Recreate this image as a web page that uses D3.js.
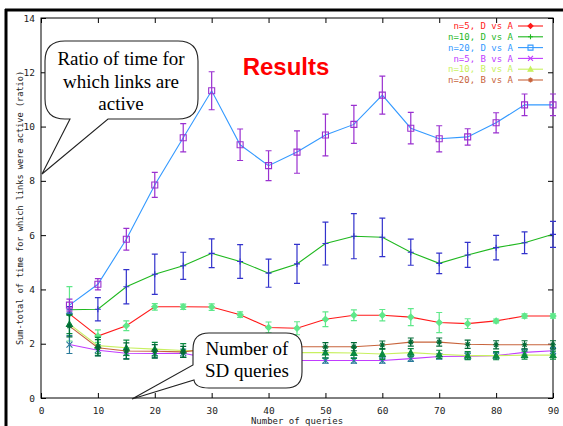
<!DOCTYPE html>
<html>
<head>
<meta charset="utf-8">
<script src="https://cdn.jsdelivr.net/npm/d3@7"></script>
<style>
    body { margin: 0; background: #fff; }
</style>
</head>
<body>
<div id="chart"></div>
<script>

// number of queries (x axis)
var queries = [5, 10, 15, 20, 25, 30, 35, 40, 45, 50, 55, 60, 65, 70, 75, 80, 85, 90];

// series values (ratio) and half-width of the error bars
var n5DvsA     = [3.10, 2.28, 2.66, 3.36, 3.36, 3.35, 3.07, 2.60, 2.57, 2.90, 3.05, 3.05, 2.98, 2.78, 2.74, 2.84, 3.02, 3.02];
var n5DvsAErr  = [1.00, 0.23, 0.18, 0.12, 0.10, 0.12, 0.10, 0.20, 0.24, 0.27, 0.20, 0.21, 0.31, 0.37, 0.18, 0.07, 0.08, 0.08];
var n10DvsA    = [3.25, 3.27, 4.10, 4.56, 4.87, 5.33, 5.03, 4.60, 4.94, 5.69, 5.96, 5.92, 5.37, 4.96, 5.27, 5.54, 5.72, 6.03];
var n10DvsAErr = [0.12, 0.43, 0.63, 0.74, 0.50, 0.53, 0.62, 0.52, 0.72, 0.79, 0.83, 0.71, 0.48, 0.38, 0.46, 0.45, 0.40, 0.48];
var n20DvsA    = [3.42, 4.19, 5.85, 7.85, 9.59, 11.32, 9.33, 8.56, 9.06, 9.69, 10.08, 11.16, 9.94, 9.55, 9.62, 10.14, 10.80, 10.80];
var n20DvsAErr = [0.22, 0.21, 0.40, 0.46, 0.52, 0.70, 0.58, 0.55, 0.78, 0.77, 0.70, 0.70, 0.58, 0.48, 0.30, 0.37, 0.40, 0.40];
var n5BvsA     = [1.97, 1.76, 1.65, 1.64, 1.65, 1.45, 1.40, 1.38, 1.38, 1.38, 1.38, 1.38, 1.45, 1.53, 1.54, 1.56, 1.68, 1.74];
var n5BvsAErr  = [0.33, 0.20, 0.20, 0.15, 0.15, 0.10, 0.10, 0.10, 0.10, 0.10, 0.10, 0.10, 0.10, 0.10, 0.12, 0.12, 0.12, 0.12];
var n10BvsA    = [2.72, 1.93, 1.85, 1.80, 1.75, 1.72, 1.70, 1.68, 1.67, 1.67, 1.66, 1.62, 1.67, 1.61, 1.56, 1.56, 1.58, 1.58];
var n10BvsAErr = [0.35, 0.30, 0.28, 0.25, 0.25, 0.20, 0.20, 0.20, 0.20, 0.20, 0.20, 0.20, 0.15, 0.15, 0.15, 0.15, 0.15, 0.15];
var n20BvsA    = [2.65, 1.85, 1.73, 1.72, 1.70, 1.82, 1.87, 1.89, 1.89, 1.89, 1.89, 1.95, 2.06, 2.06, 1.98, 1.96, 1.96, 1.96];
var n20BvsAErr = [0.40, 0.30, 0.30, 0.25, 0.20, 0.15, 0.15, 0.15, 0.15, 0.15, 0.15, 0.15, 0.15, 0.15, 0.15, 0.15, 0.15, 0.15];

var seriesNames = ["n=5, D vs A", "n=10, D vs A", "n=20, D vs A", "n=5, B vs A", "n=10, B vs A", "n=20, B vs A"];

// tick labels
var xTicks = [0, 10, 20, 30, 40, 50, 60, 70, 80, 90];
var yTicks = [0, 2, 4, 6, 8, 10, 12, 14];

var chartTitle = "Results";
var xTitle = "Number of queries";
var yTitle = "Sum-total of time for which links were active (ratio)";
var callout1 = ["Ratio of time for", "which links are", "active"];
var callout2 = ["Number of", "SD queries"];


ResultsChart = function(_parentElement){
    this.parentElement = _parentElement;
    this.initVis();
}

ResultsChart.prototype.initVis = function(){
    var vis = this;

    vis.width = 563;
    vis.height = 426;
    vis.margin = { top: 18, right: 10, bottom: 28, left: 41 };

    vis.svg = d3.select("#" + vis.parentElement).append("svg")
        .attr("width", vis.width)
        .attr("height", vis.height)
        .style("display", "block");

    vis.x = d3.scaleLinear()
        .domain([0, 90])
        .range([vis.margin.left, vis.width - vis.margin.right]);

    vis.y = d3.scaleLinear()
        .domain([0, 14])
        .range([vis.height - vis.margin.bottom, vis.margin.top]);

    // line colour, error bar colour, marker kind
    var styles = [
        { color: "#ff1a1a", bar: "#5fe88a", marker: "diamond" },
        { color: "#1fb81f", bar: "#3333cc", marker: "plus" },
        { color: "#3399ff", bar: "#9a30d0", marker: "square" },
        { color: "#c03cff", bar: "#2a7a9a", marker: "cross" },
        { color: "#c8f060", bar: "#0a8a40", marker: "triangle" },
        { color: "#c8643c", bar: "#006a35", marker: "star" }
    ];
    var values = [n5DvsA, n10DvsA, n20DvsA, n5BvsA, n10BvsA, n20BvsA];
    var errors = [n5DvsAErr, n10DvsAErr, n20DvsAErr, n5BvsAErr, n10BvsAErr, n20BvsAErr];

    vis.series = seriesNames.map(function(name, i){
        return {
            name: name,
            color: styles[i].color,
            bar: styles[i].bar,
            marker: styles[i].marker,
            points: queries.map(function(q, j){ return { x: q, v: values[i][j], e: errors[i][j] }; })
        };
    });

    vis.updateVis();
};

ResultsChart.prototype.markerPath = function(kind, s){
    if (kind == "diamond") return "M0," + (-s) + "L" + s + ",0L0," + s + "L" + (-s) + ",0Z";
    if (kind == "plus") return "M" + (-s) + ",0H" + s + "M0," + (-s) + "V" + s;
    if (kind == "square") return "M" + (-s) + "," + (-s) + "H" + s + "V" + s + "H" + (-s) + "Z";
    if (kind == "cross") return "M" + (-s) + "," + (-s) + "L" + s + "," + s + "M" + (-s) + "," + s + "L" + s + "," + (-s);
    if (kind == "triangle") return "M0," + (-s) + "L" + s + "," + (s * 0.8) + "L" + (-s) + "," + (s * 0.8) + "Z";
    // star
    return "M" + (-s) + ",0H" + s + "M0," + (-s) + "V" + s +
        "M" + (-s * 0.7) + "," + (-s * 0.7) + "L" + (s * 0.7) + "," + (s * 0.7) +
        "M" + (-s * 0.7) + "," + (s * 0.7) + "L" + (s * 0.7) + "," + (-s * 0.7);
};

ResultsChart.prototype.updateVis = function(){
    var vis = this;
    var x = vis.x, y = vis.y;
    var left = x(0), right = x(90), top = y(14), bottom = y(0);
    var mono = "'DejaVu Sans Mono', 'Liberation Mono', monospace";

    // slide border (left and top)
    vis.svg.append("line")
        .attr("x1", 6).attr("y1", 9).attr("x2", 6).attr("y2", vis.height)
        .attr("stroke", "#000").attr("stroke-width", 3);
    vis.svg.append("line")
        .attr("x1", 5).attr("y1", 10).attr("x2", vis.width).attr("y2", 10)
        .attr("stroke", "#000").attr("stroke-width", 3);

    // axes with inward ticks on all four sides
    var axisFont = function(g){
        g.select(".domain").remove();
        g.selectAll(".tick line").attr("stroke", "#000");
        g.selectAll("text")
            .attr("fill", "#222")
            .style("font-family", mono)
            .style("font-size", "9.5px");
    };

    vis.svg.append("g")
        .attr("transform", "translate(0," + bottom + ")")
        .call(d3.axisBottom(x).tickValues(xTicks).tickSize(-5).tickPadding(9))
        .call(axisFont);
    vis.svg.append("g")
        .attr("transform", "translate(" + left + ",0)")
        .call(d3.axisLeft(y).tickValues(yTicks).tickSize(-5).tickPadding(6))
        .call(axisFont);
    vis.svg.append("g")
        .attr("transform", "translate(0," + top + ")")
        .call(d3.axisTop(x).tickValues(xTicks).tickSize(-5).tickFormat(""))
        .call(axisFont);
    vis.svg.append("g")
        .attr("transform", "translate(" + right + ",0)")
        .call(d3.axisRight(y).tickValues(yTicks).tickSize(-5).tickFormat(""))
        .call(axisFont);

    vis.svg.append("rect")
        .attr("x", left).attr("y", top)
        .attr("width", right - left).attr("height", bottom - top)
        .attr("fill", "none").attr("stroke", "#000").attr("stroke-width", 1);

    // axis titles
    vis.svg.append("text")
        .attr("transform", "translate(20," + ((top + bottom) / 2) + ") rotate(-90)")
        .attr("text-anchor", "middle")
        .attr("dy", "0.35em")
        .attr("fill", "#222")
        .style("font-family", mono)
        .style("font-size", "8.6px")
        .text(yTitle);
    vis.svg.append("text")
        .attr("x", (left + right) / 2)
        .attr("y", 423.5)
        .attr("text-anchor", "middle")
        .attr("fill", "#222")
        .style("font-family", mono)
        .style("font-size", "9px")
        .text(xTitle);

    // lines, error bars and markers
    var line = d3.line()
        .x(function(d){ return x(d.x); })
        .y(function(d){ return y(d.v); });

    var groups = vis.svg.selectAll(".series")
        .data(vis.series)
        .enter()
        .append("g")
        .attr("class", "series");

    groups.append("path")
        .attr("d", function(d){ return line(d.points); })
        .attr("fill", "none")
        .attr("stroke", function(d){ return d.color; })
        .attr("stroke-width", 1.1);

    groups.each(function(s){
        var g = d3.select(this);
        g.selectAll(".bar")
            .data(s.points)
            .enter()
            .append("path")
            .attr("class", "bar")
            .attr("d", function(d){
                var y0 = y(d.v - d.e), y1 = y(d.v + d.e), cx = x(d.x);
                return "M" + cx + "," + y0 + "V" + y1 +
                    "M" + (cx - 3) + "," + y0 + "H" + (cx + 3) +
                    "M" + (cx - 3) + "," + y1 + "H" + (cx + 3);
            })
            .attr("fill", "none")
            .attr("stroke", s.bar)
            .attr("stroke-width", 1.2);

        g.selectAll(".mark")
            .data(s.points)
            .enter()
            .append("path")
            .attr("class", "mark")
            .attr("transform", function(d){ return "translate(" + x(d.x) + "," + y(d.v) + ")"; })
            .attr("d", vis.markerPath(s.marker, 3))
            .attr("fill", s.marker == "triangle" || s.marker == "diamond" ? s.bar : "none")
            .attr("stroke", s.bar)
            .attr("stroke-width", 1.1);
    });

    // legend
    var legend = vis.svg.selectAll(".legend")
        .data(vis.series)
        .enter()
        .append("g")
        .attr("class", "legend")
        .attr("transform", function(d, i){ return "translate(0," + (26 + i * 10.8) + ")"; });

    legend.append("text")
        .attr("x", 513)
        .attr("dy", "0.35em")
        .attr("text-anchor", "end")
        .attr("fill", function(d){ return d.color; })
        .style("font-family", mono)
        .style("font-size", "9px")
        .text(function(d){ return d.name; });
    legend.append("line")
        .attr("x1", 518).attr("x2", 543)
        .attr("stroke", function(d){ return d.color; })
        .attr("stroke-width", 1.1);
    legend.append("path")
        .attr("transform", "translate(530.5,0)")
        .attr("d", function(d){ return vis.markerPath(d.marker, 2.5); })
        .attr("fill", function(d){ return d.marker == "triangle" || d.marker == "diamond" ? d.color : "none"; })
        .attr("stroke", function(d){ return d.color; })
        .attr("stroke-width", 1.1);

    // title
    vis.svg.append("text")
        .attr("x", 286)
        .attr("y", 75)
        .attr("text-anchor", "middle")
        .attr("fill", "#ff0000")
        .style("font-family", "'Liberation Sans', Arial, sans-serif")
        .style("font-weight", "bold")
        .style("font-size", "24px")
        .text(chartTitle);

    // callout bubbles
    var serif = "'Liberation Serif', 'Times New Roman', serif";

    var b1 = { x0: 45, y0: 41, x1: 198, y1: 119, r: 20 };
    var p1 = "M" + (b1.x0 + b1.r) + "," + b1.y0 + "H" + (b1.x1 - b1.r) +
        "Q" + b1.x1 + "," + b1.y0 + " " + b1.x1 + "," + (b1.y0 + b1.r) +
        "V" + (b1.y1 - b1.r) +
        "Q" + b1.x1 + "," + b1.y1 + " " + (b1.x1 - b1.r) + "," + b1.y1 +
        "H108L42,174L70," + b1.y1 +
        "H" + (b1.x0 + b1.r) +
        "Q" + b1.x0 + "," + b1.y1 + " " + b1.x0 + "," + (b1.y1 - b1.r) +
        "V" + (b1.y0 + b1.r) +
        "Q" + b1.x0 + "," + b1.y0 + " " + (b1.x0 + b1.r) + "," + b1.y0 + "Z";

    var b2 = { x0: 193, y0: 333, x1: 302, y1: 388, r: 16 };
    var p2 = "M" + (b2.x0 + b2.r) + "," + b2.y0 + "H" + (b2.x1 - b2.r) +
        "Q" + b2.x1 + "," + b2.y0 + " " + b2.x1 + "," + (b2.y0 + b2.r) +
        "V" + (b2.y1 - b2.r) +
        "Q" + b2.x1 + "," + b2.y1 + " " + (b2.x1 - b2.r) + "," + b2.y1 +
        "H" + (b2.x0 + b2.r) +
        "Q" + (b2.x0 + 2) + "," + b2.y1 + " " + (b2.x0 + 1) + ",380" +
        "L132,399L" + b2.x0 + ",365" +
        "V" + (b2.y0 + b2.r) +
        "Q" + b2.x0 + "," + b2.y0 + " " + (b2.x0 + b2.r) + "," + b2.y0 + "Z";

    [p1, p2].forEach(function(p){
        vis.svg.append("path")
            .attr("d", p)
            .attr("fill", "#fff")
            .attr("stroke", "#222")
            .attr("stroke-width", 1.1);
    });

    vis.svg.append("g").selectAll("text")
        .data(callout1)
        .enter()
        .append("text")
        .attr("x", 121)
        .attr("y", function(d, i){ return 65 + i * 22.5; })
        .attr("text-anchor", "middle")
        .attr("fill", "#000")
        .style("font-family", serif)
        .style("font-size", "19px")
        .text(function(d){ return d; });

    vis.svg.append("g").selectAll("text")
        .data(callout2)
        .enter()
        .append("text")
        .attr("x", 247)
        .attr("y", function(d, i){ return 355 + i * 22; })
        .attr("text-anchor", "middle")
        .attr("fill", "#000")
        .style("font-family", serif)
        .style("font-size", "19px")
        .text(function(d){ return d; });
};

var chart = new ResultsChart("chart");

</script>
</body>
</html>
